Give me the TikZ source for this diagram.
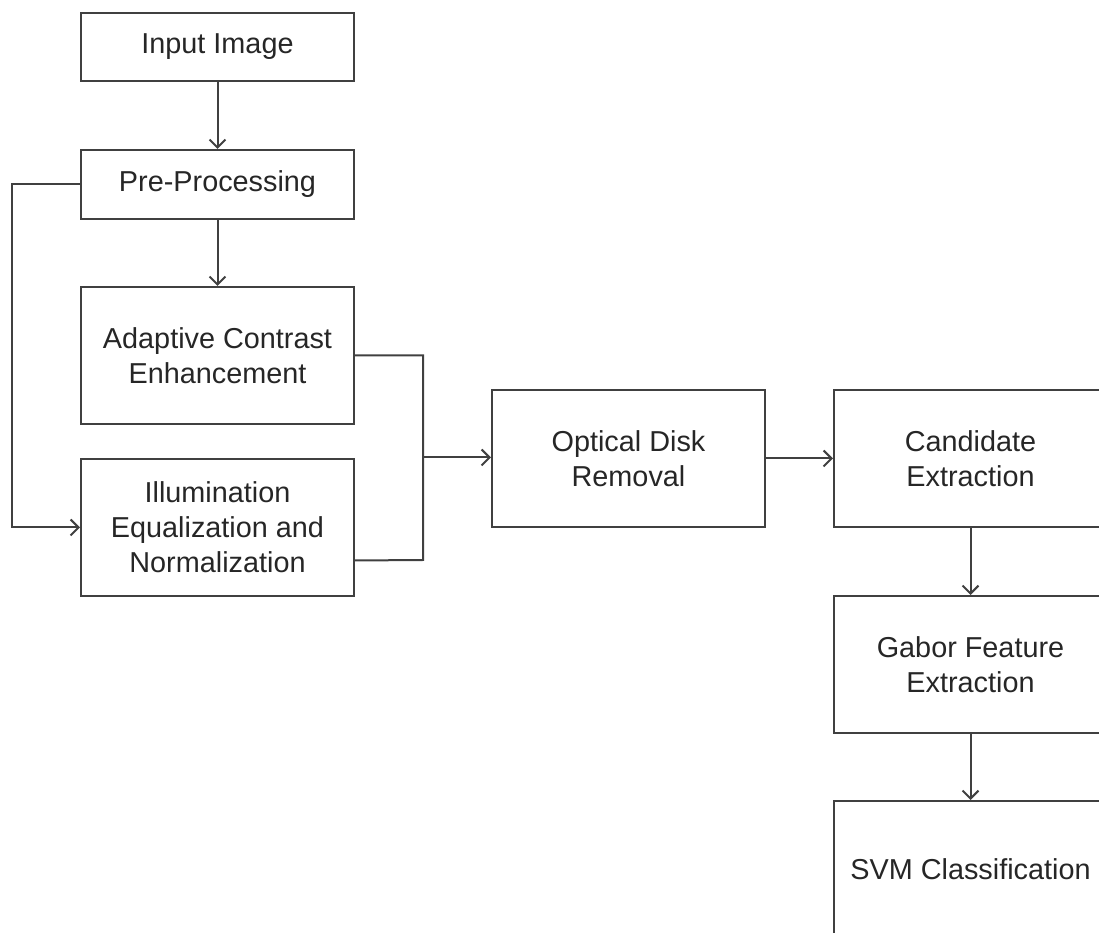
\documentclass[tikz,border=0pt]{standalone}
\usepackage{fontspec}
\setmainfont{Liberation Sans}
\usetikzlibrary{arrows.meta}

\tikzset{
	stage/.style={draw=black!75, line width=0.02cm, minimum width=2.73cm, align=center,
		text=black!85, font=\fontsize{8.2}{10}\selectfont, inner sep=0pt},
	arr/.style={draw=black!75, line width=0.02cm, -{Straight Barb[length=0.08cm,width=0.16cm]}},
	wire/.style={draw=black!75, line width=0.02cm}
}

\begin{document}
\begin{tikzpicture}
	\useasboundingbox (0,0) rectangle (10.99,-9.33);
	\clip (0,0) rectangle (10.99,-9.33);
	
	% left column
	\node[stage, minimum height=0.68cm] (input) at (2.175,-0.47) {Input Image};
	\node[stage, minimum height=0.69cm] (pre) at (2.175,-1.845) {Pre-Processing};
	\node[stage, minimum height=1.37cm] (ace) at (2.175,-3.555) {Adaptive Contrast\\Enhancement};
	\node[stage, minimum height=1.37cm] (ien) at (2.175,-5.275) {Illumination\\Equalization and\\Normalization};
	
	% middle and right column
	\node[stage, minimum height=1.37cm] (odr) at (6.285,-4.585) {Optical Disk\\Removal};
	\node[stage, minimum height=1.37cm] (cand) at (9.705,-4.585) {Candidate\\Extraction};
	\node[stage, minimum height=1.37cm] (gabor) at (9.705,-6.645) {Gabor Feature\\Extraction};
	\node[stage, minimum height=1.37cm] (svm) at (9.705,-8.695) {SVM Classification};
	
	\coordinate (join) at (4.23,-4.575);
	
	\draw[arr] (input) -- (pre);
	\draw[arr] (pre) -- (ace);
	\draw[arr] (pre.west) -- ++(-0.68,0) |- (ien.west);
	
	% both enhancement paths merge before the disk removal
	\draw[wire] (ace.east) -- (join |- ace.east) -- (join |- 0,-5.6) -- ([yshift=-0.33cm]ien.east);
	\draw[arr] (join) -- (odr.west |- join);
	
	\draw[arr] (odr) -- (cand);
	\draw[arr] (cand) -- (gabor);
	\draw[arr] (gabor) -- (svm);
\end{tikzpicture}
\end{document}
